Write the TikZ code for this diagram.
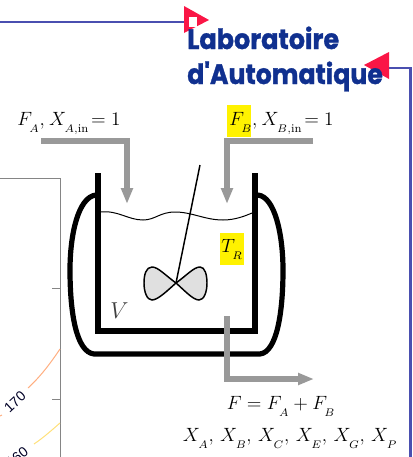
\documentclass[tikz,border=0pt]{standalone}
\usepackage{fontspec}
\usetikzlibrary{arrows.meta}
\newfontfamily\logofont[BoldFont=Poppins Bold,BoldFeatures={FakeBold=1.2}]{Poppins}
\newfontfamily\plotfont{Liberation Sans}
\definecolor{logoblue}{HTML}{10308F}
\definecolor{frameblue}{HTML}{4A4FB0}
\definecolor{logored}{HTML}{FA1646}
\definecolor{flowgray}{HTML}{999999}
\definecolor{axisgray}{HTML}{858585}
\definecolor{contourA}{HTML}{FFAE80}
\definecolor{contourB}{HTML}{FFE07A}
\newcommand{\lowsub}[1]{_{\lower3.6pt\hbox{\scalebox{1.18}{$\scriptscriptstyle #1$}}}}
\tikzset{
  wall/.style={line width=3.9pt,black},
  jacket/.style={line width=3.9pt,black,line cap=round},
  flow/.style={line width=3.9pt,flowgray,-{Triangle[width=8.5pt,length=12pt]}},
  feed/.style={line width=3.9pt,flowgray},
  eqn/.style={font=\fontsize{15}{17}\selectfont,inner sep=0pt},
  hilite/.style={fill=yellow,inner sep=0pt,anchor=north west},
  logotext/.style={font=\logofont\bfseries\fontsize{21}{24}\selectfont,text=logoblue,inner sep=0pt,anchor=base west},
  plotaxis/.style={line width=0.75pt,axisgray},
  contourlabel/.style={font=\plotfont\fontsize{10.5}{12}\selectfont,text=black!85!blue,inner sep=0pt},
  framewire/.style={line width=2.1pt,frameblue},
  redflag/.style={fill=logored,draw=none}
}
\begin{document}
\begin{tikzpicture}[x=0.75pt,y=-0.75pt]
\useasboundingbox (0,0) rectangle (412,457);
\clip (0,0) rectangle (412,457);
% frame wires
\coordinate (wireA) at (0,22);
\coordinate (flagA) at (186,22);
\draw[framewire] (wireA) -- (flagA);
\coordinate (flagB) at (388,68);
\coordinate (wireB) at (410.5,457);
\draw[framewire] (flagB) -| (wireB);
% red flags
\fill[redflag] (184,6) -- (209,20) -- (184,33) -- cycle;
\fill[white] (189,17) rectangle (197,27);
\fill[redflag] (364,65) -- (389,52) -- (389,79) -- cycle;
% logo
\node[logotext] (logoA) at (187,49) {\scalebox{0.91}[1]{Laboratoire}};
\node[logotext] (logoB) at (187,84) {\scalebox{0.90}[1]{d'Automatique}};
% plot fragment
\draw[plotaxis] (0,178) -- (60,178) -- (60,457);
\draw[plotaxis] (52,288) -- (60,288);
\draw[plotaxis] (52,399) -- (60,399);
\draw[line width=0.75pt,contourA] (60,349) .. controls (50,364) and (40,377) .. (28,388);
\draw[line width=0.75pt,contourA] (0,416) -- (2,415);
\draw[line width=0.75pt,contourB] (60,423) .. controls (52,430) and (43,438) .. (34,444);
\node[contourlabel,rotate=43] (c170) at (15,402) {170};
\node[contourlabel,rotate=38] (c160) at (17,457) {160};
% yellow highlights
\node[hilite,minimum width=18pt,minimum height=24pt] (hlB) at (227,105) {};
\node[hilite,minimum width=18pt,minimum height=24pt] (hlT) at (220,233) {};
% vessel
\draw[wall] (98,173) -- (98,331) -- (255,331) -- (255,173);
\draw[jacket] (96,195) .. controls (78,197) and (70,235) .. (70,270) .. controls (70,312) and (76,352) .. (94,354)
  -- (260,354) .. controls (277,352) and (283,312) .. (283,270) .. controls (283,235) and (275,197) .. (258,195);
% surface
\draw[line width=0.75pt] (100,212) .. controls (118,210) and (128,220) .. (143,220)
  .. controls (155,220) and (160,212) .. (175,212) .. controls (192,212) and (205,220) .. (223,220)
  .. controls (235,220) and (245,216) .. (252,213);
% stirrer
\coordinate (hub) at (176,283);
\coordinate (shaftTop) at (200,165);
\draw[line width=1.1pt] (hub) -- (shaftTop);
\draw[line width=1.1pt,fill=black!12] (hub) .. controls (165,275) and (158,267) .. (152,267)
  .. controls (146,267) and (144,275) .. (144,283) .. controls (144,292) and (147,300) .. (152,300)
  .. controls (158,300) and (168,290) .. (hub)
  .. controls (187,275) and (194,267) .. (200,267) .. controls (205,267) and (207,275) .. (207,283)
  .. controls (207,292) and (204,300) .. (199,300) .. controls (193,300) and (184,290) .. (hub) -- cycle;
% flows
\coordinate (fA0) at (41,141);
\coordinate (fA1) at (127,141);
\coordinate (fA2) at (127,204);
\draw[feed] (fA0) -- (fA1) -- (127,190);
\draw[flow] (127,185) -- (fA2);
\coordinate (fB0) at (313,141);
\coordinate (fB1) at (227,141);
\coordinate (fB2) at (227,204);
\draw[feed] (fB0) -- (fB1) -- (227,190);
\draw[flow] (227,185) -- (fB2);
\coordinate (fC0) at (227,316);
\coordinate (fC1) at (227,379);
\coordinate (fC2) at (314,379);
\draw[feed] (fC0) -- (fC1) -- (300,379);
\draw[flow] (295,379) -- (fC2);
% labels
\node[eqn,anchor=base west] (lA) at (17,125) {$F\lowsub{A},\mkern1mu X\lowsub{A,\mathrm{in}}\mkern-3mu = 1$};
\node[eqn,anchor=base west] (lB) at (229,125) {$F\lowsub{B},\mkern1mu X\lowsub{B,\mathrm{in}}\mkern-3mu = 1$};
\node[eqn,anchor=base west] (lT) at (221,252) {$T\lowsub{R}$};
\node[eqn,anchor=base west,text=black!75,font=\fontsize{17}{19}\selectfont] (lV) at (110,318) {$V$};
\node[eqn,anchor=base] (lF) at (281,409) {$F = F\lowsub{A} + F\lowsub{B}$};
\node[eqn,anchor=base] (lX) at (290,441) {$X\lowsub{A},\, X\lowsub{B},\, X\lowsub{C},\, X\lowsub{E},\, X\lowsub{G},\, X\lowsub{P}$};
\end{tikzpicture}
\end{document}
